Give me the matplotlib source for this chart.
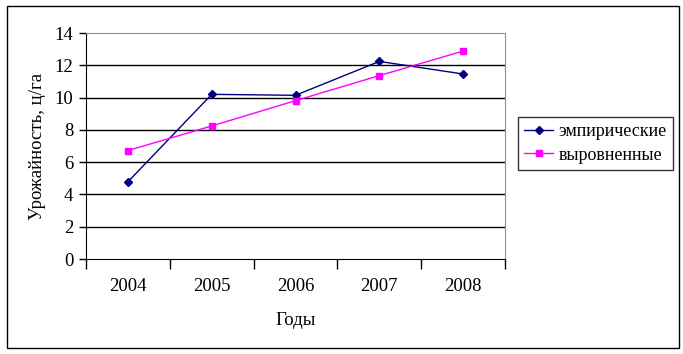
import matplotlib
matplotlib.use("Agg")
import matplotlib.pyplot as plt
from matplotlib.patches import Rectangle

years = ["2004", "2005", "2006", "2007", "2008"]
empirical = [4.78, 10.2, 10.14, 12.24, 11.46]
fitted = [6.72, 8.24, 9.81, 11.36, 12.88]
yticks = [0, 2, 4, 6, 8, 10, 12, 14]

plt.rcParams['font.family'] = ['Liberation Serif', 'DejaVu Serif']

fig = plt.figure(figsize=(6.83, 3.54), dpi=100)
fig.patch.set_facecolor('white')
ax = fig.add_axes([86/683, 1-259/354, (505-86)/683, (259-33)/354])

x = list(range(len(years)))
ax.plot(x, empirical, color='#000080', marker='D', markersize=4.5, linewidth=1,
        label='эмпирические')
ax.plot(x, fitted, color='#FF00FF', marker='s', markersize=4.5, linewidth=1,
        label='выровненные')

ax.set_xlim(-0.5, len(years) - 0.5)
ax.set_ylim(0, 14)
ax.set_yticks(yticks)
ax.set_yticklabels([str(v) for v in yticks], fontsize=13.5)
for v in yticks[1:-1]:
    ax.axhline(v, color='black', linewidth=1, zorder=0)

ax.set_xticks([i - 0.5 for i in range(len(years) + 1)])
ax.set_xticklabels([])
ax.set_xticks(x, minor=True)
ax.set_xticklabels(years, minor=True, fontsize=13.5)
ax.tick_params(axis='x', which='major', direction='out', length=7, width=1, color='black')
ax.tick_params(axis='x', which='minor', length=0, pad=14)
ax.tick_params(axis='y', direction='out', length=5, width=1, pad=4)

ax.spines['left'].set_color('black')
ax.spines['bottom'].set_color('black')
ax.spines['top'].set_color('#909090')
ax.spines['right'].set_color('#909090')

ax.set_xlabel('Годы', fontsize=13.5, labelpad=12)
ax.set_ylabel('Урожайность, ц/га', fontsize=13.5, labelpad=6)

leg = fig.legend(loc='upper left', bbox_to_anchor=(518/683, 1-117/354),
                 fontsize=13, frameon=True, fancybox=False, edgecolor='black',
                 handlelength=1.6, borderpad=0.35, labelspacing=0.35, handletextpad=0.3,
                 borderaxespad=0)
leg.get_frame().set_linewidth(1)

fig.patches.append(Rectangle((7/683, 6/354), (679-7)/683, (348-6)/354,
                             transform=fig.transFigure, fill=False,
                             edgecolor='black', linewidth=1))

fig.savefig('out.png', dpi=100)
